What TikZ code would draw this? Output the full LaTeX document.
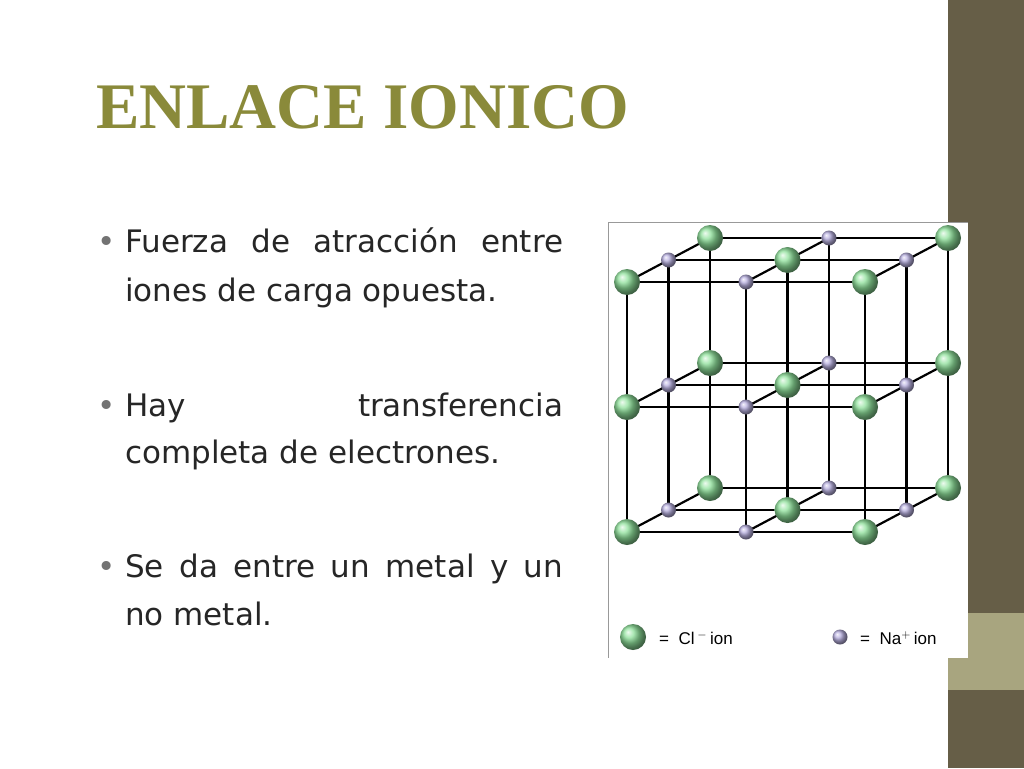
\documentclass[tikz,border=0pt]{standalone}
\usepackage{fontspec}
\setmainfont{Liberation Serif}
\newfontfamily\bodyf{DejaVu Sans}
\newfontfamily\legf{Liberation Sans}
\definecolor{olive}{HTML}{8A8A3A}
\definecolor{stripe}{HTML}{665E47}
\definecolor{band}{HTML}{A8A57F}
\definecolor{clg}{HTML}{8EE09A}
\definecolor{nap}{HTML}{B8B0E0}
\tikzset{
  cl/.style={circle,inner sep=0pt,minimum size=26pt,shading=ball,ball color=clg},
  na/.style={circle,inner sep=0pt,minimum size=15pt,shading=ball,ball color=nap},
  lat/.style={line width=2.2pt,black},
  bul/.style={anchor=base west,inner sep=0pt,font=\bodyf\fontsize{31}{35}\selectfont,text=black!85}
}
\begin{document}
\begin{tikzpicture}[x=1pt,y=-1pt]
\useasboundingbox (0,0) rectangle (1024,768);
\fill[white] (0,0) rectangle (1024,768);
\fill[stripe] (948,0) rectangle (1024,768);
\fill[band] (948,613) rectangle (1024,690);
\node[anchor=base west,inner sep=0pt,text=olive,font=\bfseries\fontsize{65}{68}\selectfont] (title) at (96,128) {ENLACE IONICO};
% bullets
\foreach \y/\n in {252/b1,416/b2,577/b3}{\node[bul,text=black!55] (\n) at (97,\y) {\textbullet};}
\node[bul] (l1) at (125,252) {\makebox[438pt][s]{Fuerza de atracción entre}};
\node[bul] (l2) at (125,301) {iones de carga opuesta.};
\node[bul] (l3) at (125,416) {\makebox[438pt][s]{Hay transferencia}};
\node[bul] (l4) at (125,463) {completa de electrones.};
\node[bul] (l5) at (125,577) {\makebox[438pt][s]{Se da entre un metal y un}};
\node[bul] (l6) at (125,625) {no metal.};
% figure frame
\fill[white] (608,222) rectangle (968,658);
\draw[black!40,line width=0.8pt] (608,222) -- (968,222);
\draw[black!40,line width=0.8pt] (608,222) -- (608,658);
% lattice
\foreach \a in {0,1,2}{\foreach \b in {0,1,2}{
  \draw[lat] ({627+119*\a+41.5*\b},{282-22*\b}) -- ({627+119*\a+41.5*\b},{532-22*\b});
  \draw[lat] ({627+41.5*\b},{282+125*\a-22*\b}) -- ({865+41.5*\b},{282+125*\a-22*\b});
  \draw[lat] ({627+119*\b},{282+125*\a}) -- ({710+119*\b},{238+125*\a});
}}
\foreach \k in {2,1,0}{\foreach \j in {0,1,2}{\foreach \i in {0,1,2}{
  \pgfmathtruncatemacro\s{mod(\i+\k,2)}
  \ifnum\s=0
    \node[cl] (c\i\j\k) at ({627+119*\i+41.5*\k},{282+125*\j-22*\k}) {};
  \else
    \node[na] (n\i\j\k) at ({627+119*\i+41.5*\k},{282+125*\j-22*\k}) {};
  \fi
}}}
% legend
\node[cl] (lc) at (633,637) {};
\node[anchor=west,inner sep=0pt,font=\legf\fontsize{17}{20}\selectfont] (lct) at (659,638) {=\ \ Cl\,$^{-}$\,ion};
\node[na] (ln) at (840,637) {};
\node[anchor=west,inner sep=0pt,font=\legf\fontsize{17}{20}\selectfont] (lnt) at (860,638) {=\ \ Na$^{+}$\,ion};
\end{tikzpicture}
\end{document}
